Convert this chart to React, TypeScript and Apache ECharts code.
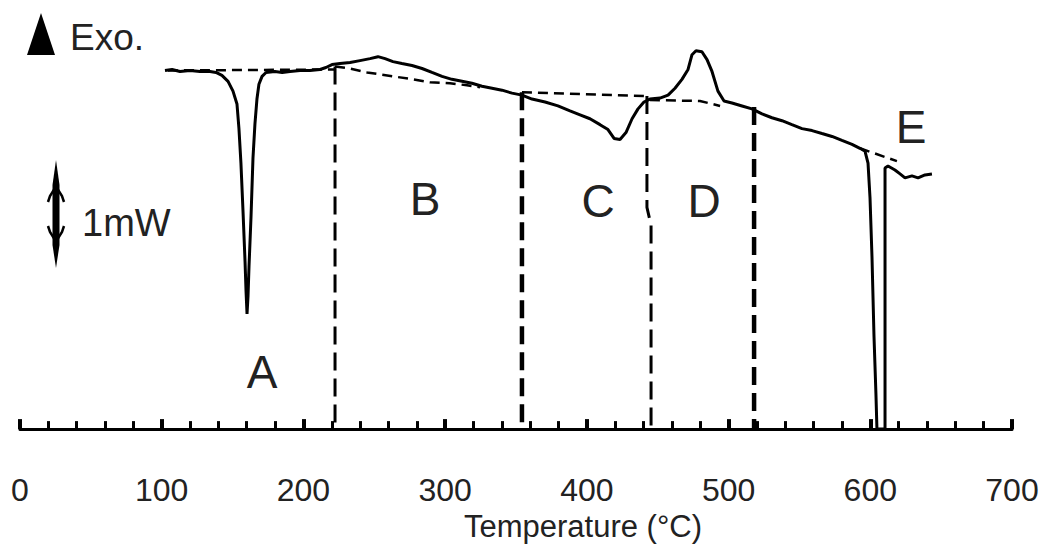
import React, { useEffect, useRef } from "react";
import * as echarts from "echarts";

// DSC curve: [temperature °C, signal (arbitrary units, baseline axis = 0)]
const dscCurve: number[][] = [
  [102.3, 364], [107.3, 365], [112.9, 363], [120.0, 364], [127.0, 363], [134.1, 363],
  [138.3, 362], [142.5, 359], [146.8, 353], [150.3, 343], [153.1, 330], [154.5, 305],
  [155.9, 270], [157.4, 220], [158.8, 170], [159.5, 140], [160.2, 117], [160.9, 135],
  [161.6, 165], [163.0, 215], [164.4, 275], [165.8, 310], [167.2, 335], [168.6, 350],
  [170.8, 358], [173.6, 362], [179.9, 363], [185.0, 362], [190.5, 363], [197.6, 364],
  [204.6, 364], [211.7, 365], [215.9, 367], [220.2, 370], [225.8, 371], [232.9, 372],
  [239.9, 374], [247.0, 376], [252.6, 378], [257.6, 376], [263.2, 373], [269.5, 371],
  [276.6, 369], [283.7, 366], [290.7, 362], [297.8, 358], [304.8, 355], [311.9, 353],
  [318.9, 351], [326.0, 348], [333.1, 346], [340.1, 344], [347.2, 341], [354.2, 339],
  [361.3, 335], [370.5, 332], [379.6, 328], [388.1, 323], [395.2, 319], [402.2, 315],
  [409.3, 309], [414.9, 304], [419.2, 295], [423.4, 294], [427.6, 301], [431.9, 315],
  [436.1, 325], [440.3, 332], [444.5, 335], [451.6, 336], [457.3, 339], [462.2, 346],
  [467.1, 355], [471.4, 365], [474.2, 380], [477.0, 384], [481.2, 383], [484.8, 375],
  [488.3, 363], [492.5, 343], [496.8, 333], [502.4, 331], [509.5, 328], [516.5, 325],
  [523.6, 320], [530.6, 316], [537.7, 313], [544.7, 309], [551.8, 305], [558.9, 303],
  [565.9, 300], [573.0, 297], [580.0, 293], [587.1, 289], [592.7, 285], [596.3, 282],
  [598.4, 270], [599.8, 235], [601.2, 175], [602.6, 95], [604.0, 35], [604.7, 0],
  [610.4, 0], [610.4, 265], [612.5, 267], [617.4, 263], [621.0, 259], [624.5, 255],
  [629.4, 257], [633.7, 255], [638.6, 258], [643.5, 259],
];

// Dashed baselines
const baselineA: number[][] = [[104.4, 364], [222.3, 365]];
const baselineB: number[][] = [
  [222.3, 368], [232.9, 366], [244.9, 362], [263.2, 358], [277.3, 355],
  [289.3, 352], [303.4, 351], [315.4, 349], [324.6, 347],
];
const baselineC: number[][] = [[354.2, 342], [442.4, 338]];
const baselineD: number[][] = [[444.5, 334], [479.8, 333], [494.0, 328]];
const baselineE: number[][] = [[592.7, 285], [618.8, 272]];

// Dashed vertical region boundaries
const boundary1: number[][] = [[222.3, 368], [222.3, 0]];
const boundary2: number[][] = [[354.2, 342], [354.2, 0]];
const boundary3: number[][] = [[442.4, 338], [442.4, 225], [445.3, 207], [445.3, 0]];
const boundary4: number[][] = [[518.0, 327], [518.0, 0]];

const xTicks = [0, 100, 200, 300, 400, 500, 600, 700];
const regionLabels = ["A", "B", "C", "D", "E"];

const FONT = "'Liberation Sans', Arial, Helvetica, sans-serif";

export default function App() {
  const ref = useRef<HTMLDivElement>(null);

  useEffect(() => {
    document.body.style.margin = "0";
    if (!ref.current) return;
    const chart = echarts.init(ref.current, null, { renderer: "svg" });

    const dashSeries = (data: number[][], width: number, dash: number[]) => ({
      type: "line",
      data,
      showSymbol: false,
      silent: true,
      lineStyle: { color: "#000", width, type: dash },
      z: 2,
    });

    const labelPos: Record<string, [number, number]> = {
      A: [262, 372],
      B: [425, 199],
      C: [598, 201],
      D: [704, 201],
      E: [911, 127],
    };

    chart.setOption({
      animation: false,
      backgroundColor: "#fff",
      grid: { left: 20, right: 32, top: 35, bottom: 112, containLabel: false },
      xAxis: {
        type: "value",
        min: 0,
        max: 700,
        interval: 100,
        name: "Temperature (°C)",
        nameLocation: "middle",
        nameGap: 80,
        nameTextStyle: {
          fontFamily: FONT,
          fontSize: 31,
          color: "#222",
          padding: [0, 0, 0, 134],
        },
        axisLine: { show: true, lineStyle: { color: "#000", width: 3 } },
        axisTick: { show: true, inside: true, length: 10, lineStyle: { color: "#000", width: 4 } },
        minorTick: { show: true, splitNumber: 5, length: 8, lineStyle: { color: "#000", width: 3 } },
        axisLabel: {
          margin: 45,
          fontFamily: FONT,
          fontSize: 32,
          color: "#222",
          formatter: (v: number) => (xTicks.includes(v) ? String(v) : ""),
        },
        splitLine: { show: false },
      },
      yAxis: {
        type: "value",
        min: 0,
        max: 400,
        show: false,
        splitLine: { show: false },
      },
      series: [
        {
          type: "line",
          data: dscCurve,
          showSymbol: false,
          silent: true,
          lineStyle: { color: "#000", width: 3 },
          z: 3,
        },
        dashSeries(baselineA, 2.5, [10, 6]),
        dashSeries(baselineB, 2.5, [10, 6]),
        dashSeries(baselineC, 2.5, [10, 6]),
        dashSeries(baselineD, 2.5, [10, 6]),
        dashSeries(baselineE, 2.5, [10, 6]),
        dashSeries(boundary1, 3, [18, 8]),
        dashSeries(boundary2, 4.5, [18, 8]),
        dashSeries(boundary3, 3, [18, 8]),
        dashSeries(boundary4, 4.5, [18, 8]),
      ],
      graphic: [
        {
          type: "polygon",
          shape: { points: [[27, 55], [41, 13], [55, 55]] },
          style: { fill: "#000" },
        },
        {
          type: "text",
          x: 70,
          y: 37,
          style: { text: "Exo.", font: `37px ${FONT}`, fill: "#222", textVerticalAlign: "middle" },
        },
        {
          type: "polygon",
          shape: { points: [[56, 160], [59.5, 185], [59.5, 245], [56, 268], [52.5, 245], [52.5, 185]] },
          style: { fill: "#000" },
        },
        {
          type: "polyline",
          shape: { points: [[48, 202], [50, 196], [55, 188], [57, 188], [62, 196], [64, 202]] },
          style: { stroke: "#000", lineWidth: 2.5, fill: null },
        },
        {
          type: "polyline",
          shape: { points: [[48, 226], [50, 232], [55, 240], [57, 240], [62, 232], [64, 226]] },
          style: { stroke: "#000", lineWidth: 2.5, fill: null },
        },
        {
          type: "text",
          x: 82,
          y: 223,
          style: { text: "1mW", font: `38px ${FONT}`, fill: "#222", textVerticalAlign: "middle" },
        },
        ...regionLabels.map((l) => ({
          type: "text",
          x: labelPos[l][0],
          y: labelPos[l][1],
          style: {
            text: l,
            font: `46px ${FONT}`,
            fill: "#222",
            textAlign: "center",
            textVerticalAlign: "middle",
          },
        })),
      ],
    });

    return () => chart.dispose();
  }, []);

  return <div ref={ref} style={{ width: 1044, height: 547 }} />;
}
